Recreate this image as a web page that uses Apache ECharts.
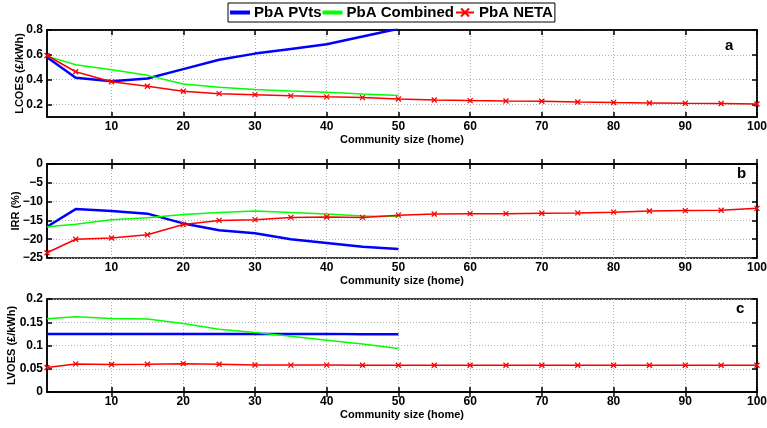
<!DOCTYPE html>
<html><head><meta charset="utf-8">
<script src="https://cdn.jsdelivr.net/npm/echarts@6/dist/echarts.min.js"></script>
<style>html,body{margin:0;padding:0;background:#fff}#c{width:767px;height:428px}</style>
</head><body><div id="c"></div>
<script>
// ---- data ----
const xAll = [1,5,10,15,20,25,30,35,40,45,50,55,60,65,70,75,80,85,90,95,100];
const x50  = [1,5,10,15,20,25,30,35,40,45,50];
const xTicks = [10,20,30,40,50,60,70,80,90,100];
const yTicksA = [0.2,0.4,0.6,0.8];
const yTicksB = [-25,-20,-15,-10,-5,0];
const yTicksC = [0,0.05,0.1,0.15,0.2];
const seriesNames = ['PbA PVts','PbA Combined','PbA NETA'];

const lcoesPVts     = [0.58,0.415,0.387,0.41,0.485,0.56,0.61,0.648,0.685,0.747,0.81];
const lcoesCombined = [0.59,0.52,0.48,0.435,0.365,0.339,0.322,0.31,0.30,0.285,0.272];
const lcoesNETA     = [0.595,0.464,0.384,0.347,0.307,0.288,0.28,0.27,0.262,0.256,0.245,0.237,0.232,0.229,0.227,0.221,0.216,0.213,0.21,0.208,0.205];

const irrPVts     = [-16.7,-12.0,-12.5,-13.2,-15.8,-17.6,-18.4,-20.0,-21.0,-22.0,-22.6];
const irrCombined = [-16.7,-16.0,-14.8,-14.3,-13.4,-12.9,-12.5,-12.9,-13.3,-13.8,-13.9];
const irrNETA     = [-23.6,-20.0,-19.7,-18.8,-16.1,-15.0,-14.8,-14.2,-14.1,-14.2,-13.6,-13.3,-13.2,-13.2,-13.1,-13.0,-12.8,-12.5,-12.4,-12.3,-11.8];

const lvoesPVts     = [0.125,0.125,0.125,0.125,0.125,0.125,0.125,0.125,0.125,0.124,0.124];
const lvoesCombined = [0.1575,0.162,0.158,0.157,0.1475,0.135,0.128,0.12,0.1115,0.103,0.0936];
const lvoesNETA     = [0.0526,0.0604,0.059,0.0597,0.061,0.0597,0.058,0.0578,0.0578,0.0575,0.0575,0.0575,0.0575,0.0575,0.0575,0.0575,0.0575,0.0575,0.0575,0.0575,0.0575];

// ---- styling helpers ----
const FONT = 'Liberation Sans, Arial, sans-serif';
const grids = [
  {left:47, right:10, top:30, height:87},
  {left:47, right:10, top:164, height:94},
  {left:47, right:10, top:299, height:93}
];
const gridLine = {show:true, lineStyle:{color:'#b0b0b0', type:[1,2], width:1}};
const tick = (vals) => ({show:true, inside:true, length:5, lineStyle:{color:'#000', width:1.5}, customValues: vals});

function xAxes(g) {
  return [
    {type:'value', gridIndex:g, min:1, max:100, position:'bottom',
     axisLine:{show:true, lineStyle:{color:'#000', width:1.5}},
     axisTick: tick(xTicks),
     axisLabel:{show:true, customValues:xTicks, color:'#000', fontWeight:'bold', fontSize:12, fontFamily:FONT, margin:4, hideOverlap:false},
     splitLine: gridLine,
     name:'Community size (home)', nameLocation:'middle', nameGap:17, nameMoveOverlap:false,
     nameTextStyle:{color:'#000', fontWeight:'bold', fontSize:11, fontFamily:FONT}},
    {type:'value', gridIndex:g, min:1, max:100, position:'top',
     axisLine:{show:true, lineStyle:{color:'#000', width:1.5}},
     axisTick: tick(xTicks), axisLabel:{show:false}, splitLine:{show:false}}
  ];
}
function yAxes(g, min, max, vals, name, gap) {
  return [
    {type:'value', gridIndex:g, min:min, max:max, position:'left',
     axisLine:{show:true, lineStyle:{color:'#000', width:1.5}},
     axisTick: tick(vals),
     axisLabel:{show:true, customValues:vals, color:'#000', fontWeight:'bold', fontSize:12, fontFamily:FONT, margin:4,
       formatter: v => String(+v.toFixed(3)).replace('-', '\u2212')},
     splitLine: gridLine,
     name:name, nameLocation:'middle', nameRotate:90, nameGap:gap, nameMoveOverlap:false,
     nameTextStyle:{color:'#000', fontWeight:'bold', fontSize:11, fontFamily:FONT}},
    {type:'value', gridIndex:g, min:min, max:max, position:'right',
     axisLine:{show:true, lineStyle:{color:'#000', width:1.5}},
     axisTick: tick(vals), axisLabel:{show:false}, splitLine:{show:false}}
  ];
}

const COLORS = ['#0000ff','#00ff00','#ff0000'];
const WIDTHS = [2.5,1.5,1.5];
const XMARK = 'path://M0,0L10,10M10,0L0,10';
const LINEICON = 'path://M0,0h18v2h-18z';

function mk(nameIdx, g, xs, ys) {
  const isNeta = nameIdx === 2;
  return {
    type:'line', name:seriesNames[nameIdx], xAxisIndex:g*2, yAxisIndex:g*2,
    data: xs.map((x,i)=>[x, ys[i]]),
    showSymbol:isNeta, symbol: isNeta ? XMARK : 'none', symbolSize:5,
    itemStyle:{color:COLORS[nameIdx], borderColor:COLORS[nameIdx], borderWidth:1.3},
    lineStyle:{color:COLORS[nameIdx], width:WIDTHS[nameIdx]},
    clip:true, animation:false, z: isNeta ? 3 : 2
  };
}

const option = {
  backgroundColor:'#fff',
  animation:false,
  legend:{
    data:[{name:seriesNames[0], icon:LINEICON}, {name:seriesNames[1], icon:LINEICON}, {name:seriesNames[2]}],
    left:228, top:3, orient:'horizontal',
    itemWidth:18, itemHeight:10, itemGap:1, padding:[2,2],
    borderColor:'#000', borderWidth:1, backgroundColor:'#fff',
    textStyle:{color:'#000', fontWeight:'bold', fontSize:15, fontFamily:FONT}
  },
  grid: grids.map(g => Object.assign({show:true, borderColor:'#000', borderWidth:1.5, backgroundColor:'#fff', containLabel:false, outerBoundsMode:'none'}, g)),
  xAxis: [].concat(xAxes(0), xAxes(1), xAxes(2)),
  yAxis: [].concat(
    yAxes(0, 0.1, 0.8, yTicksA, 'LCOES (£/kWh)', 21.5),
    yAxes(1, -25, 0, yTicksB, 'IRR (%)', 25.5),
    yAxes(2, 0, 0.2, yTicksC, 'LVOES (£/kWh)', 29.5)
  ),
  series: [
    mk(0,0,x50,lcoesPVts), mk(1,0,x50,lcoesCombined), mk(2,0,xAll,lcoesNETA),
    mk(0,1,x50,irrPVts), mk(1,1,x50,irrCombined), mk(2,1,xAll,irrNETA),
    mk(0,2,x50,lvoesPVts), mk(1,2,x50,lvoesCombined), mk(2,2,xAll,lvoesNETA)
  ],
  graphic: [
    {type:'text', left:725, top:38, style:{text:'a', fill:'#000', font:'bold 15px '+FONT}},
    {type:'text', left:737, top:166, style:{text:'b', fill:'#000', font:'bold 15px '+FONT}},
    {type:'text', left:736, top:301, style:{text:'c', fill:'#000', font:'bold 15px '+FONT}}
  ]
};
const chart = echarts.init(document.getElementById('c'), null, {renderer:'canvas'});
chart.setOption(option);
</script></body></html>
